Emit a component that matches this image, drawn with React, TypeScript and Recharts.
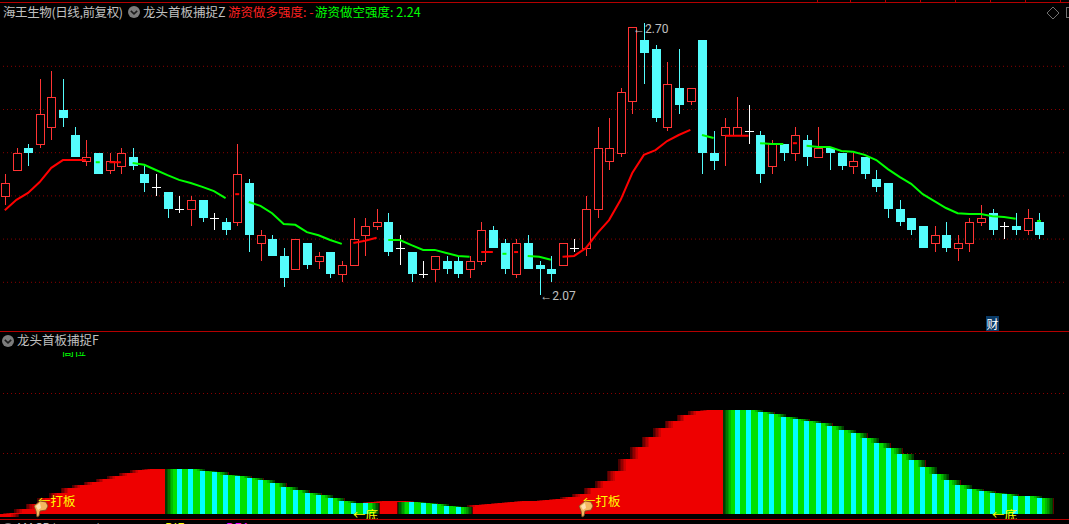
import React from 'react';
import { ComposedChart, Bar, Line, XAxis, YAxis, CartesianGrid, ReferenceDot } from 'recharts';

const _ = null;

const opens = [
  2.30, 2.36, 2.41, 2.42, 2.46, 2.50, 2.44, 2.38, 2.40, 2.36,
  2.37, 2.39, 2.35, 2.32, 2.31, 2.27, 2.27, 2.29, 2.25, 2.24,
  2.24, 2.33, 2.19, 2.20, 2.16, 2.13, 2.19, 2.15, 2.17, 2.12,
  2.14, 2.21, 2.23, 2.24, 2.18, 2.17, 2.12, 2.13, 2.15, 2.15,
  2.13, 2.15, 2.22, 2.19, 2.12, 2.19, 2.14, 2.13, 2.14, 2.18,
  2.18, 2.27, 2.38, 2.40, 2.52, 2.66, 2.64, 2.46, 2.55, 2.52,
  2.66, 2.40, 2.44, 2.44, 2.45, 2.44, 2.37, 2.42, 2.40, 2.43,
  2.39, 2.41, 2.40, 2.37, 2.39, 2.34, 2.33, 2.27, 2.25, 2.23,
  2.19, 2.21, 2.18, 2.19, 2.24, 2.26, 2.23, 2.23, 2.22, 2.24,
];
const closes = [
  2.33, 2.40, 2.40, 2.49, 2.53, 2.48, 2.39, 2.39, 2.35, 2.38,
  2.40, 2.37, 2.33, 2.32, 2.27, 2.27, 2.29, 2.25, 2.25, 2.22,
  2.35, 2.21, 2.21, 2.16, 2.11, 2.20, 2.14, 2.16, 2.12, 2.14,
  2.20, 2.23, 2.24, 2.17, 2.18, 2.12, 2.12, 2.16, 2.13, 2.12,
  2.15, 2.22, 2.18, 2.13, 2.19, 2.13, 2.13, 2.12, 2.19, 2.18,
  2.27, 2.41, 2.41, 2.54, 2.69, 2.63, 2.48, 2.56, 2.51, 2.55,
  2.40, 2.38, 2.46, 2.46, 2.45, 2.35, 2.42, 2.40, 2.44, 2.39,
  2.41, 2.40, 2.37, 2.38, 2.35, 2.32, 2.27, 2.24, 2.22, 2.18,
  2.21, 2.18, 2.19, 2.24, 2.25, 2.22, 2.23, 2.22, 2.25, 2.21,
];
const highs = [
  2.35, 2.41, 2.42, 2.57, 2.59, 2.57, 2.46, 2.43, 2.40, 2.40,
  2.41, 2.41, 2.37, 2.35, 2.31, 2.30, 2.30, 2.29, 2.26, 2.25,
  2.42, 2.34, 2.22, 2.21, 2.18, 2.20, 2.19, 2.17, 2.17, 2.15,
  2.25, 2.25, 2.27, 2.26, 2.21, 2.17, 2.15, 2.16, 2.16, 2.16,
  2.16, 2.24, 2.23, 2.20, 2.20, 2.21, 2.15, 2.16, 2.19, 2.20,
  2.30, 2.46, 2.48, 2.55, 2.69, 2.70, 2.65, 2.61, 2.64, 2.55,
  2.66, 2.45, 2.48, 2.53, 2.51, 2.45, 2.43, 2.42, 2.46, 2.44,
  2.46, 2.41, 2.40, 2.40, 2.39, 2.36, 2.33, 2.29, 2.25, 2.23,
  2.23, 2.24, 2.21, 2.25, 2.28, 2.27, 2.24, 2.26, 2.27, 2.26,
];
const lows = [
  2.28, 2.36, 2.37, 2.41, 2.43, 2.46, 2.39, 2.37, 2.35, 2.35,
  2.35, 2.36, 2.31, 2.30, 2.25, 2.26, 2.23, 2.24, 2.22, 2.21,
  2.23, 2.17, 2.15, 2.16, 2.09, 2.13, 2.13, 2.13, 2.11, 2.10,
  2.14, 2.16, 2.22, 2.16, 2.14, 2.10, 2.11, 2.10, 2.12, 2.11,
  2.11, 2.14, 2.18, 2.12, 2.11, 2.13, 2.07, 2.10, 2.14, 2.17,
  2.16, 2.25, 2.36, 2.39, 2.49, 2.56, 2.47, 2.45, 2.49, 2.51,
  2.35, 2.36, 2.37, 2.44, 2.42, 2.33, 2.35, 2.38, 2.38, 2.37,
  2.39, 2.36, 2.36, 2.35, 2.34, 2.31, 2.25, 2.23, 2.21, 2.18,
  2.17, 2.17, 2.15, 2.17, 2.23, 2.21, 2.20, 2.21, 2.21, 2.20,
];

// strength line, red while rising and green while falling
const longLine = [
  2.267, 2.291, 2.307, 2.332, 2.365, 2.383, 2.383, 2.383, _, 2.378,
  2.378, _, _, _, _, _, _, _, _, _,
  2.304, _, _, _, _, _, _, _, _, _,
  2.191, 2.196, 2.203, _, _, _, _, _, _, _,
  _, 2.170, 2.170, _, 2.170, _, _, _, 2.159, 2.161,
  2.179, 2.214, 2.244, 2.291, 2.353, 2.395, 2.406, 2.427, 2.441, 2.453,
  _, _, 2.439, 2.439, 2.439, _, _, _, 2.422, _,
  _, _, _, _, _, _, _, _, _, _,
  _, _, _, _, _, _, _, _, _, _,
];
const shortLine = [
  _, _, _, _, _, _, _, _, 2.378, _,
  _, 2.376, 2.372, 2.360, 2.348, 2.337, 2.330, 2.321, 2.311, 2.295,
  _, 2.286, 2.277, 2.260, 2.235, 2.233, 2.216, 2.209, 2.198, 2.189,
  _, _, _, 2.198, 2.198, 2.186, 2.175, 2.175, 2.168, 2.161,
  2.159, _, _, 2.166, _, 2.161, 2.159, 2.152, _, _,
  _, _, _, _, _, _, _, _, _, _,
  2.441, 2.434, _, _, _, 2.422, 2.420, 2.420, _, 2.416,
  2.413, 2.413, 2.404, 2.402, 2.395, 2.383, 2.362, 2.344, 2.328, 2.304,
  2.288, 2.272, 2.260, 2.258, 2.258, 2.253, 2.251, 2.247, _, 2.242,
];

// lower panel columns
const hotBars = [
  -1.2, 0.2, 1.5, 3.2, 5.2, 6.8, 8.5, 9.5, 10.5, 11.5,
  12.5, 13.5, 14.5, 14.8, 14.8, _, _, _, _, _,
  _, _, _, _, _, _, _, _, _, _,
  _, _, 3.8, 4.2, 4.2, _, _, _, _, _,
  2.2, 2.8, 3.2, 3.5, 3.8, 4.2, 4.3, 4.5, 4.8, 5.5,
  6.5, 8.5, 10.8, 14.2, 18.2, 22.2, 25.5, 28.5, 30.8, 32.8,
  34.2, 34.5, 34.5, _, _, _, _, _, _, _,
  _, _, _, _, _, _, _, _, _, _,
  _, _, _, _, _, _, _, _, _, _,
];
const coolBars = [
  _, _, _, _, _, _, _, _, _, _,
  _, _, _, _, _, 14.8, 14.8, 14.2, 13.8, 12.8,
  12.5, 11.8, 11.2, 10.2, 8.8, 7.8, 6.8, 6.2, 5.2, 4.2,
  3.5, 3.5, _, _, _, 3.8, 3.5, 3.2, 2.5, 2.2,
  _, _, _, _, _, _, _, _, _, _,
  _, _, _, _, _, _, _, _, _, _,
  _, _, _, 34.5, 34.5, 33.8, 33.2, 32.2, 31.5, 30.8,
  30.2, 29.2, 27.8, 26.8, 25.2, 23.5, 21.8, 19.8, 17.8, 15.5,
  13.2, 11.2, 9.5, 8.2, 7.5, 6.8, 6.5, 5.8, 5.8, 5.2,
];

const priceTicks = [2.1, 2.2, 2.3, 2.4, 2.5, 2.6];
const lowerTicks = [20, 40];

const SLOTS = 92; // 90 days plus the empty room on the right
const rows = Array.from({ length: SLOTS }, (_v, i) => ({
  day: i,
  open: opens[i] ?? null,
  close: closes[i] ?? null,
  high: highs[i] ?? null,
  low: lows[i] ?? null,
  long: longLine[i] ?? null,
  short: shortLine[i] ?? null,
  hot: hotBars[i] ?? null,
  cool: coolBars[i] ?? null,
}));

const hotLayers = [
  { half: 14, color: '#4a0000' },
  { half: 12.5, color: '#6e0000' },
  { half: 11, color: '#920000' },
  { half: 9.5, color: '#b00000' },
  { half: 8, color: '#ce0000' },
  { half: 6.3, color: '#ee0000' },
];
const coolLayers = [
  { half: 14.5, color: '#5a0000' },
  { half: 14, color: '#003c00' },
  { half: 12.5, color: '#005a00' },
  { half: 11, color: '#007a00' },
  { half: 9.5, color: '#009a00' },
  { half: 8, color: '#00ba00' },
  { half: 6.3, color: '#00e000' },
  { half: 2.5, color: '#00ffff' },
];

const UP = '#ff3434';
const DOWN = '#54fcfc';

function Candle(props: any) {
  const { x, y, width, height, payload } = props;
  if (payload.high == null || !height) return null;
  const perUnit = height / (payload.high - payload.low);
  const toY = (v: number) => Math.round(y + (payload.high - v) * perUnit);
  const cx = Math.round(x + width / 2);
  const top = toY(payload.high);
  const bottom = toY(payload.low);
  const { open, close } = payload;
  if (open === close) {
    const yy = toY(open);
    return (
      <g shapeRendering="crispEdges" fill="#fff">
        <rect x={cx} y={top} width={1} height={bottom - top} />
        <rect x={cx - 4} y={yy} width={9} height={1} />
      </g>
    );
  }
  const bodyTop = toY(Math.max(open, close));
  const bodyBottom = toY(Math.min(open, close));
  const color = close > open ? UP : DOWN;
  return (
    <g shapeRendering="crispEdges">
      <rect x={cx} y={top} width={1} height={bottom - top} fill={color} />
      {close > open ? (
        <rect x={cx - 4} y={bodyTop} width={8} height={bodyBottom - bodyTop} fill="#000" stroke={color} strokeWidth={1} />
      ) : (
        <rect x={cx - 4} y={bodyTop} width={9} height={bodyBottom - bodyTop} fill={color} />
      )}
    </g>
  );
}

// a lone point of the line shows as a short dash
const stubDot = (values: (number | null)[], color: string) => (p: any) => {
  const lone = values[p.index] != null && values[p.index - 1] == null && values[p.index + 1] == null;
  if (!lone) return <g key={p.index} />;
  return <rect key={p.index} x={p.cx - 2} y={p.cy - 1} width={4} height={2} fill={color} />;
};

const layerShape = (half: number, color: string) => (p: any) => {
  if (p.value == null || !p.height) return <g />;
  const cx = p.x + p.width / 2;
  const top = Math.min(p.y, p.y + p.height);
  return (
    <rect x={cx - half} y={top} width={half * 2} height={Math.abs(p.height)} fill={color} shapeRendering="crispEdges" />
  );
};

const extremeLabel = (text: string, dy: number) => (p: any) => (
  <text x={p.cx + 1} y={p.cy + dy} fill="#c0c0c0" fontSize={12} fontFamily="Roboto, sans-serif">
    {text}
  </text>
);

const titleFont = '"Noto Sans CJK SC", sans-serif';

function Txt({ x, y, color, children, size = 12.5, tight = 0 }: any) {
  return (
    <div style={{ position: 'absolute', left: x, top: y, color, fontSize: size, letterSpacing: tight, lineHeight: '16px', fontFamily: titleFont, whiteSpace: 'nowrap' }}>
      {children}
    </div>
  );
}

function Chevron({ x, y }: { x: number; y: number }) {
  return (
    <svg style={{ position: 'absolute', left: x - 7, top: y - 7 }} width={14} height={14}>
      <circle cx={7} cy={7} r={6} fill="#7c7c7c" />
      <path d="M3.8 5.8 L7 8.8 L10.2 5.8" fill="none" stroke="#1c1c1c" strokeWidth={1.6} />
    </svg>
  );
}

function Hand({ x, y }: { x: number; y: number }) {
  return (
    <svg style={{ position: 'absolute', left: x, top: y }} width={16} height={18}>
      <path d="M1 6 L7 1 L13 2 L15 6 L13 10 L7 11 L6 16 L4 17 L3 11 Z" fill="#f4b860" stroke="#7a4a20" strokeWidth={0.8} />
      <path d="M3 6 L7 3 L8 8 L5 10 Z" fill="#ffe2b0" />
    </svg>
  );
}

function Pick({ x, text }: { x: number; text: string }) {
  return (
    <div style={{ position: 'absolute', left: x, top: 508, height: 11, overflow: 'hidden', color: '#ffff00', fontSize: 12.5, lineHeight: '14px', fontFamily: titleFont, whiteSpace: 'nowrap' }}>
      {text}
    </div>
  );
}

export default function App() {
  return (
    <div style={{ position: 'fixed', left: 0, top: 0, width: 1069, height: 524, background: '#000', overflow: 'hidden' }}>
      {/* price panel */}
      <div style={{ position: 'absolute', left: -1, top: 0 }}>
        <ComposedChart
          width={1069}
          height={524}
          data={rows}
          margin={{ top: 23.1, right: 0, bottom: 198.5, left: 0 }}
          barCategoryGap={0}
          barGap={0}
        >
          <CartesianGrid vertical={false} horizontalValues={priceTicks} stroke="#8a0000" strokeDasharray="1 3" />
          <XAxis dataKey="day" hide />
          <YAxis hide domain={[2.0, 2.7]} ticks={priceTicks} />
          <Bar dataKey={(d: any) => (d.high == null ? null : [d.low, d.high])} shape={Candle} isAnimationActive={false} />
          <Line dataKey="long" stroke="#ff0000" strokeWidth={2} dot={stubDot(longLine, '#ff0000')} activeDot={false} isAnimationActive={false} />
          <Line dataKey="short" stroke="#00ff00" strokeWidth={2} dot={stubDot(shortLine, '#00ff00')} activeDot={false} isAnimationActive={false} />
          <ReferenceDot x={46} y={2.07} r={0} shape={extremeLabel('←2.07', 5)} />
        </ComposedChart>
      </div>

      {/* lower panel */}
      <div style={{ position: 'absolute', left: -1, top: 0 }}>
        <ComposedChart
          width={1069}
          height={524}
          data={rows}
          margin={{ top: 333.5, right: 0, bottom: 5, left: 0 }}
          barCategoryGap={0}
          barGap={0}
        >
          <CartesianGrid vertical={false} horizontalValues={lowerTicks} stroke="#8a0000" strokeDasharray="1 3" />
          <YAxis hide domain={[-1.8333, 60]} ticks={lowerTicks} />
          {hotLayers.map((l) => (
            <XAxis key={`hx${l.half}`} xAxisId={`h${l.half}`} dataKey="day" hide />
          ))}
          {coolLayers.map((l) => (
            <XAxis key={`cx${l.half}`} xAxisId={`c${l.half}`} dataKey="day" hide />
          ))}
          {hotLayers.map((l) => (
            <Bar key={`hb${l.half}`} xAxisId={`h${l.half}`} dataKey="hot" shape={layerShape(l.half, l.color)} isAnimationActive={false} />
          ))}
          {coolLayers.map((l) => (
            <Bar key={`cb${l.half}`} xAxisId={`c${l.half}`} dataKey="cool" shape={layerShape(l.half, l.color)} isAnimationActive={false} />
          ))}
        </ComposedChart>
      </div>

      {/* the dotted grid stops short of the right edge */}
      <div style={{ position: 'absolute', left: 1066, top: 40, width: 3, height: 470, background: '#000' }} />

      {/* frame lines */}
      <div style={{ position: 'absolute', left: 0, top: 2, width: 1069, height: 1, background: '#b40000' }} />
      {[817, 850, 885, 920, 955, 990, 1025, 1060].map((x) => (
        <div key={x} style={{ position: 'absolute', left: x, top: 0, width: 1, height: 2, background: '#b40000' }} />
      ))}
      <div style={{ position: 'absolute', left: 0, top: 331, width: 1069, height: 1, background: '#b40000' }} />
      <div style={{ position: 'absolute', left: 0, top: 519, width: 1069, height: 1, background: '#b40000' }} />

      {/* titles */}
      <Txt x={3} y={4} color="#c0c0c0" tight={-0.4}>海王生物(日线,前复权)</Txt>
      <Chevron x={134} y={12} />
      <Txt x={143} y={4} color="#c0c0c0">龙头首板捕捉Z</Txt>
      <Txt x={228} y={4} color="#ff2020">游资做多强度: -</Txt>
      <Txt x={315} y={4} color="#00ff00">游资做空强度: 2.24</Txt>
      <svg style={{ position: 'absolute', left: 1046, top: 6 }} width={23} height={14}>
        <path d="M7 1 L13 7 L7 13 L1 7 Z" fill="none" stroke="#707070" />
        <rect x={20.5} y={1.5} width={6} height={10} fill="none" stroke="#707070" />
      </svg>
      <Chevron x={8} y={341} />
      <Txt x={17} y={332} color="#c0c0c0">龙头首板捕捉F</Txt>
      <div style={{ position: 'absolute', left: 62, top: 352, width: 26, height: 5, overflow: 'hidden' }}>
        <div style={{ marginTop: -9, color: '#00ff00', fontSize: 12, lineHeight: '16px', fontFamily: titleFont }}>高位</div>
      </div>
      <div style={{ position: 'absolute', left: 986, top: 316, width: 13, height: 15, background: '#0a3a66', color: '#fff', fontSize: 12, lineHeight: '15px', textAlign: 'center', fontFamily: titleFont }}>
        财
      </div>

      {/* the high mark sits over the candles */}
      <div style={{ position: 'absolute', left: 633, top: 21, color: '#c0c0c0', fontSize: 12, lineHeight: '16px', fontFamily: 'Roboto, sans-serif', whiteSpace: 'nowrap' }}>
        ←2.70
      </div>

      {/* signals */}
      <Txt x={38} y={493} color="#ffff00">←打板</Txt>
      <Hand x={33} y={500} />
      <Txt x={583} y={493} color="#ffff00">←打板</Txt>
      <Hand x={578} y={500} />
      <Pick x={353} text="←底" />
      <Pick x={992} text="←底" />

      {/* next panel's title, only its top shows */}
      <Chevron x={8} y={529} />
      <Txt x={17} y={520} color="#c0c0c0">MACD(12,26,9)</Txt>
      <Txt x={165} y={520} color="#ffff00">DIF: 0.01</Txt>
      <Txt x={226} y={520} color="#ff00ff">DEA: 0.00</Txt>
    </div>
  );
}
